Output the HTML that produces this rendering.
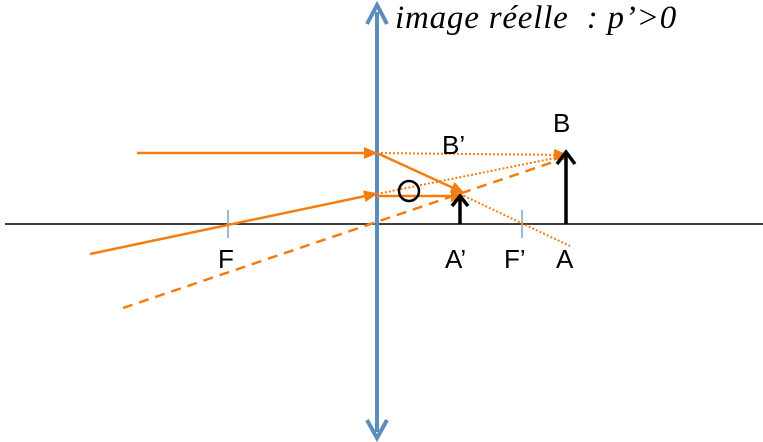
<!DOCTYPE html>
<html><head><meta charset="utf-8"><style>
html,body{margin:0;padding:0;background:#fff;width:763px;height:442px;overflow:hidden}
svg{display:block}
</style></head><body>
<svg width="763" height="442" viewBox="0 0 763 442" xmlns="http://www.w3.org/2000/svg">
<defs>
<marker id="oa" markerWidth="14" markerHeight="12" refX="11" refY="6" orient="auto" markerUnits="userSpaceOnUse"><path d="M0,0 L14,6 L0,12 z" fill="#f47d12"/></marker>
</defs>
<line x1="5" y1="224" x2="763" y2="224" stroke="#000" stroke-width="1.5"/>
<line x1="228" y1="210" x2="228" y2="238" stroke="#9bbad6" stroke-width="2"/>
<line x1="522" y1="210" x2="522" y2="238" stroke="#9bbad6" stroke-width="2"/>
<line x1="377" y1="12" x2="377" y2="432" stroke="#5b8dbc" stroke-width="4"/>
<path d="M367,24 L377,5 L387,24" fill="none" stroke="#5b8dbc" stroke-width="4"/>
<path d="M367,420 L377,438 L387,420" fill="none" stroke="#5b8dbc" stroke-width="4"/>
<g stroke="#f47d12" fill="none">
<line x1="137" y1="153" x2="375" y2="153" stroke-width="2.5" marker-end="url(#oa)"/>
<line x1="90" y1="254" x2="375" y2="194" stroke-width="2.5" marker-end="url(#oa)"/>
<line x1="377" y1="153" x2="462" y2="192" stroke-width="2.5" marker-end="url(#oa)"/>
<line x1="377" y1="196" x2="462" y2="196" stroke-width="2.5" marker-end="url(#oa)"/>
<line x1="377" y1="153" x2="565" y2="155" stroke-width="2" stroke-dasharray="2,2" marker-end="url(#oa)"/>
<line x1="377" y1="194" x2="565" y2="156" stroke-width="2" stroke-dasharray="2,2"/>
<line x1="460" y1="194" x2="570" y2="246" stroke-width="2" stroke-dasharray="2,2"/>
<line x1="123" y1="308" x2="565" y2="158" stroke-width="2.5" stroke-dasharray="10,7"/>
</g>
<g stroke="#000" stroke-width="3.5" fill="none">
<line x1="566" y1="224" x2="566" y2="152"/>
<path d="M557,164 L566,152 L575,164"/>
<line x1="460" y1="224" x2="460" y2="196"/>
<path d="M452,206 L460,196 L468,206"/>
</g>
<circle cx="409" cy="191" r="10" fill="none" stroke="#000" stroke-width="2.5"/>
<g font-family="Liberation Sans, sans-serif" font-size="26" fill="#000">
<text x="218" y="268">F</text>
<text x="445" y="268">A’</text>
<text x="504" y="268">F’</text>
<text x="556" y="268">A</text>
<text x="553" y="132">B</text>
<text x="442" y="154">B’</text>
</g>
<text x="395" y="28" font-family="Liberation Serif, serif" font-style="italic" font-size="33" letter-spacing="0.8" fill="#000" xml:space="preserve">image réelle  : p’&gt;0</text>
</svg>
</body></html>
